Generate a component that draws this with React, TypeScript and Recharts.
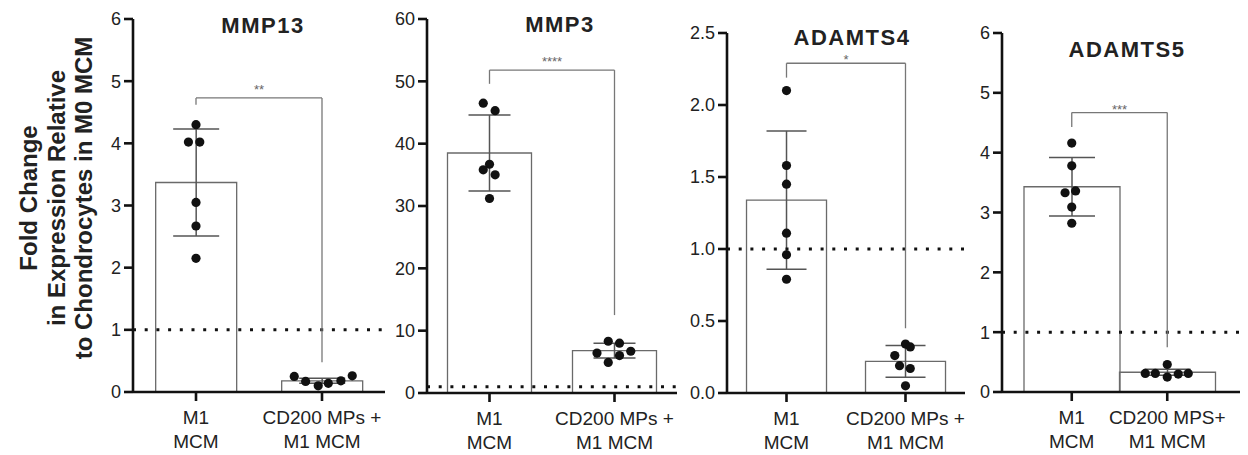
import React from 'react';
import { ComposedChart, Bar, ErrorBar, Scatter, XAxis, YAxis, ReferenceLine } from 'recharts';

// categories
const cats = ['M1\nMCM', 'CD200 MPs +\nM1 MCM'];
const catsA5 = ['M1\nMCM', 'CD200 MPS+\nM1 MCM'];

// MMP13
const mmp13Means = [3.37, 0.18];
const mmp13Sd = [0.86, 0.04];
const mmp13M1 = [4.3, 4.02, 4.02, 3.05, 2.67, 2.15];
const mmp13M1Jit = [0, -0.06, 0.03, 0, 0, 0];
const mmp13Cd = [0.25, 0.17, 0.1, 0.14, 0.18, 0.26];
const mmp13CdJit = [-0.22, -0.13, -0.03, 0.05, 0.15, 0.24];
const mmp13Ticks = [0, 1, 2, 3, 4, 5, 6];

// MMP3
const mmp3Means = [38.5, 6.8];
const mmp3Sd = [6.1, 1.2];
const mmp3M1 = [46.5, 45.3, 36.7, 35.8, 35.0, 31.2];
const mmp3M1Jit = [-0.05, 0.045, 0, -0.05, 0.045, 0];
const mmp3Cd = [8.3, 8.0, 6.4, 6.7, 6.0, 4.9];
const mmp3CdJit = [-0.05, 0.04, -0.14, 0.13, 0.04, -0.05];
const mmp3Ticks = [0, 10, 20, 30, 40, 50, 60];

// ADAMTS4
const a4Means = [1.34, 0.22];
const a4Sd = [0.48, 0.11];
const a4M1 = [2.1, 1.58, 1.45, 1.11, 0.96, 0.79];
const a4M1Jit = [0, 0, 0, 0, 0, 0];
const a4Cd = [0.34, 0.32, 0.26, 0.19, 0.17, 0.05];
const a4CdJit = [0, 0.04, -0.09, -0.05, 0.04, 0];
const a4Ticks = [0, 0.5, 1, 1.5, 2, 2.5];

// ADAMTS5
const a5Means = [3.43, 0.33];
const a5Sd = [0.49, 0.05];
const a5M1 = [4.16, 3.78, 3.33, 3.36, 3.09, 2.82];
const a5M1Jit = [0, 0, -0.07, 0.04, 0, 0];
const a5Cd = [0.46, 0.31, 0.31, 0.25, 0.3, 0.31];
const a5CdJit = [0, -0.23, -0.125, 0, 0.115, 0.22];
const a5Ticks = [0, 1, 2, 3, 4, 5, 6];

// significance brackets: [top, left end, right end]
const stars = ['**', '****', '*', '***'];
const brackets = [
  [4.73, 4.62, 0.48],
  [51.8, 49.6, 12.5],
  [2.29, 2.19, 0.45],
  [4.67, 4.43, 0.75],
];

const FONT = '"Liberation Sans", Arial, Helvetica, sans-serif';
const INK = '#111';
const AXW = 2.6;

const CatTick = (props: any) => {
  const { x, y, payload } = props;
  const lines = String(payload.value).split('\n');
  return (
    <g>
      <line x1={x} x2={x} y1={y} y2={y + 9} stroke={INK} strokeWidth={AXW} />
      <text x={x} y={y} textAnchor="middle" fontSize={19} fill="#222">
        {lines.map((l, i) => (
          <tspan key={i} x={x} dy={i === 0 ? 32 : 24}>{l}</tspan>
        ))}
      </text>
    </g>
  );
};

const ValTick = (props: any) => {
  const { x, y, payload, decimals } = props;
  return (
    <g>
      <line x1={x - 9} x2={x} y1={y} y2={y} stroke={INK} strokeWidth={AXW} />
      <text x={x - 12} y={y} dy="0.36em" textAnchor="end" fontSize={18} fill="#222">
        {Number(payload.value).toFixed(decimals)}
      </text>
    </g>
  );
};

const Dot = (props: any) => <circle cx={props.cx} cy={props.cy} r={4.6} fill={INK} />;

type PanelProps = {
  categories: string[];
  means: number[];
  sd: number[];
  m1: number[];
  m1Jit: number[];
  cd: number[];
  cdJit: number[];
  ticks: number[];
  decimals: number;
  star: string;
  starOffset: number;
  bracket: number[];
  left: number;
  plotW: number;
  top: number;
  bottomY: number;
  gap: string | number;
  padL: number;
  padR: number;
  capW: number;
};

const Panel = (p: PanelProps) => {
  const data = p.categories.map((name, i) => ({ name, mean: p.means[i], err: p.sd[i] }));
  const pts = [
    ...p.m1.map((y, i) => ({ x: p.m1Jit[i], y })),
    ...p.cd.map((y, i) => ({ x: 1 + p.cdJit[i], y })),
  ];
  const band = (p.plotW - p.padL - p.padR) / 2;
  const numDomain = [-0.5 - p.padL / band, 1.5 + p.padR / band];
  const yAxisW = 60;
  const xAxisH = 55;
  const [top, lEnd, rEnd] = p.bracket;
  const br = '#777';
  return (
    <div style={{ position: 'absolute', left: p.left, top: 0 }}>
      <ComposedChart
        width={yAxisW + p.plotW}
        height={455}
        data={data}
        barCategoryGap={p.gap}
        margin={{ top: p.top, right: 0, left: 0, bottom: 455 - p.bottomY - xAxisH }}
      >
        <XAxis
          xAxisId="cat"
          dataKey="name"
          type="category"
          height={xAxisH}
          interval={0}
          padding={{ left: p.padL, right: p.padR }}
          tick={<CatTick />}
          tickSize={0}
          tickMargin={0}
          axisLine={false}
          tickLine={false}
        />
        <XAxis xAxisId="num" type="number" dataKey="x" domain={numDomain} allowDataOverflow hide />
        <YAxis
          type="number"
          domain={[0, p.ticks[p.ticks.length - 1]]}
          ticks={p.ticks}
          interval={0}
          width={yAxisW}
          tickSize={0}
          tickMargin={0}
          tick={<ValTick decimals={p.decimals} />}
          axisLine={false}
          tickLine={false}
        />
        <Bar xAxisId="cat" dataKey="mean" fill="none" stroke="#6a6a6a" strokeWidth={1.3} isAnimationActive={false}>
          <ErrorBar dataKey="err" direction="y" width={p.capW} stroke="#555" strokeWidth={1.5} isAnimationActive={false} />
        </Bar>
        <ReferenceLine xAxisId="num" y={1} stroke={INK} strokeWidth={3} strokeDasharray="3 8.7" />
        <ReferenceLine xAxisId="num" y={0} stroke={INK} strokeWidth={AXW} ifOverflow="visible" />
        <ReferenceLine xAxisId="num" x={numDomain[0]} stroke={INK} strokeWidth={AXW} ifOverflow="visible" />
        <ReferenceLine
          xAxisId="num"
          segment={[{ x: 0, y: top }, { x: 1, y: top }]}
          stroke={br}
          strokeWidth={1.3}
          label={{ value: p.star, position: 'top', fill: '#666', fontSize: 13, offset: p.starOffset }}
        />
        <ReferenceLine xAxisId="num" segment={[{ x: 0, y: top }, { x: 0, y: lEnd }]} stroke={br} strokeWidth={1.3} />
        <ReferenceLine xAxisId="num" segment={[{ x: 1, y: top }, { x: 1, y: rEnd }]} stroke={br} strokeWidth={1.3} />
        <Scatter xAxisId="num" data={pts} dataKey="y" shape={<Dot />} isAnimationActive={false} />
      </ComposedChart>
    </div>
  );
};

const titles = [
  { text: 'MMP13', x: 263, y: 33 },
  { text: 'MMP3', x: 560, y: 32 },
  { text: 'ADAMTS4', x: 852, y: 45 },
  { text: 'ADAMTS5', x: 1127, y: 57 },
];
const yLabel = ['Fold Change', 'in Expression Relative', 'to Chondrocytes in M0 MCM'];

export default function App() {
  return (
    <div style={{ position: 'absolute', left: 0, top: 0, width: 1248, height: 455, background: '#fff', fontFamily: FONT }}>
      <Panel categories={cats} means={mmp13Means} sd={mmp13Sd} m1={mmp13M1} m1Jit={mmp13M1Jit} cd={mmp13Cd} cdJit={mmp13CdJit}
        ticks={mmp13Ticks} decimals={0} star={stars[0]} starOffset={4} bracket={brackets[0]}
        left={73} plotW={252} top={19} bottomY={392} gap="18%" padL={0} padR={0} capW={23} />
      <Panel categories={cats} means={mmp3Means} sd={mmp3Sd} m1={mmp3M1} m1Jit={mmp3M1Jit} cd={mmp3Cd} cdJit={mmp3CdJit}
        ticks={mmp3Ticks} decimals={0} star={stars[1]} starOffset={4} bracket={brackets[1]}
        left={367} plotW={250} top={19} bottomY={393} gap="16.4%" padL={0} padR={0} capW={21} />
      <Panel categories={cats} means={a4Means} sd={a4Sd} m1={a4M1} m1Jit={a4M1Jit} cd={a4Cd} cdJit={a4CdJit}
        ticks={a4Ticks} decimals={1} star={stars[2]} starOffset={-1} bracket={brackets[2]}
        left={667} plotW={238} top={33} bottomY={393} gap="16.4%" padL={0} padR={0} capW={20} />
      <Panel categories={catsA5} means={a5Means} sd={a5Sd} m1={a5M1} m1Jit={a5M1Jit} cd={a5Cd} cdJit={a5CdJit}
        ticks={a5Ticks} decimals={0} star={stars[3]} starOffset={-1} bracket={brackets[3]}
        left={942} plotW={238} top={33} bottomY={392} gap={0} padL={22} padR={25} capW={23} />
      <svg width={1248} height={455} style={{ position: 'absolute', left: 0, top: 0, pointerEvents: 'none' }}>
        {titles.map((t) => (
          <text key={t.text} x={t.x} y={t.y} textAnchor="middle" fontSize={22} fontWeight="bold" letterSpacing={1.5} fill="#222">
            {t.text}
          </text>
        ))}
        {yLabel.map((l, i) => (
          <text key={l} transform={`translate(${37 + i * 27.5},198) rotate(-90)`} textAnchor="middle" fontSize={24} fontWeight="bold" fill="#222">
            {l}
          </text>
        ))}
      </svg>
    </div>
  );
}
